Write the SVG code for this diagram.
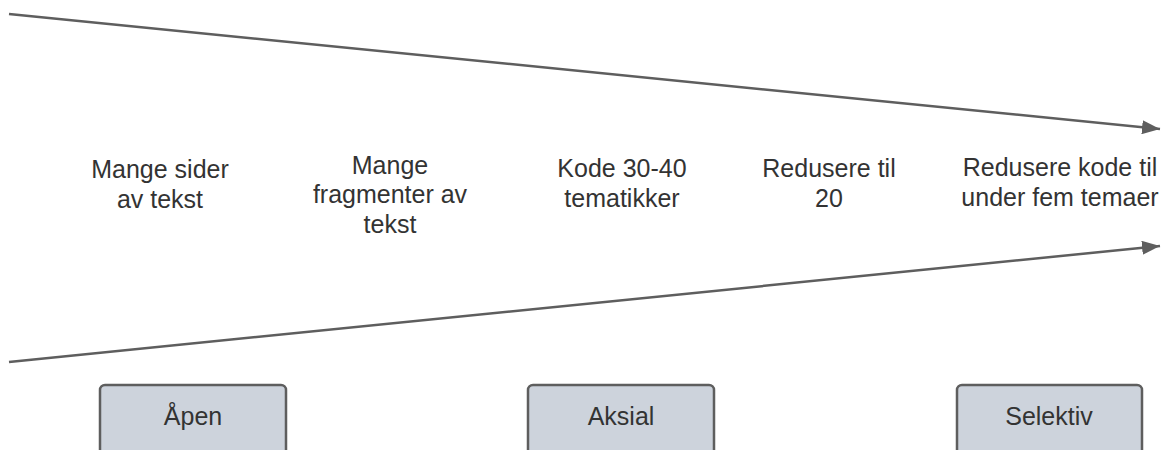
<svg xmlns="http://www.w3.org/2000/svg" width="1161" height="450" viewBox="0 0 1161 450">
<style>
.t{font-family:"Liberation Sans",Arial,sans-serif;font-size:25px;fill:#333333;text-anchor:middle}
.b{font-family:"Liberation Sans",Arial,sans-serif;font-size:25px;fill:#333333;text-anchor:middle}
.box{fill:#cdd3dc;stroke:#5e5e5e;stroke-width:2.5}
.c{stroke:#5e5e5e;stroke-width:2.5;fill:none}
</style>
<defs>
<marker id="ah" markerUnits="userSpaceOnUse" markerWidth="20" markerHeight="14" refX="18" refY="7" orient="auto">
<path d="M0,0 L18,7 L0,14 Z" fill="#5e5e5e"/>
</marker>
</defs>
<g id="connectors">
<line class="c" x1="9" y1="14" x2="1160" y2="129" marker-end="url(#ah)"/>
<line class="c" x1="9" y1="362" x2="1160" y2="246" marker-end="url(#ah)"/>
</g>
<g id="t1"><text class="t" x="160" y="178">Mange sider</text><text class="t" x="160" y="208">av tekst</text></g>
<g id="t2"><text class="t" x="390" y="174">Mange</text><text class="t" x="390" y="203">fragmenter av</text><text class="t" x="390" y="233">tekst</text></g>
<g id="t3"><text class="t" x="622" y="177">Kode 30-40</text><text class="t" x="622" y="207">tematikker</text></g>
<g id="t4"><text class="t" x="829" y="177">Redusere til</text><text class="t" x="829" y="207">20</text></g>
<g id="t5"><text class="t" x="1060" y="176">Redusere kode til</text><text class="t" x="1060" y="206">under fem temaer</text></g>
<g id="apen"><rect class="box" x="100" y="385" width="186" height="80" rx="5"/><text class="b" x="193" y="425">Åpen</text></g>
<g id="aksial"><rect class="box" x="528" y="385" width="186" height="80" rx="5"/><text class="b" x="621" y="425">Aksial</text></g>
<g id="selektiv"><rect class="box" x="957" y="385" width="185" height="80" rx="5"/><text class="b" x="1049" y="425">Selektiv</text></g>
</svg>
